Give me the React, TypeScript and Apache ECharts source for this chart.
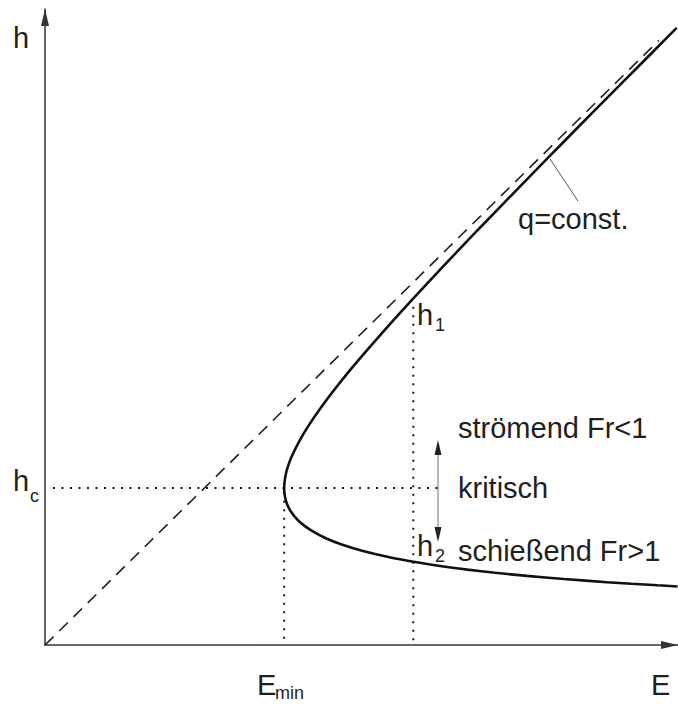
import React, { useEffect, useRef } from "react";
import * as echarts from "echarts";

// Specific energy curve E(h) for constant discharge q (h_c = 1, E_min = 1.5 h_c)
const curveH = [
  0.373, 0.38, 0.39, 0.4, 0.42, 0.44, 0.46, 0.48, 0.5, 0.53, 0.56, 0.6, 0.64, 0.68,
  0.72, 0.76, 0.8, 0.85, 0.9, 0.95, 1.0, 1.05, 1.1, 1.15, 1.2, 1.3, 1.4, 1.5, 1.6,
  1.75, 1.9, 2.05, 2.2, 2.4, 2.6, 2.8, 3.0, 3.2, 3.4, 3.6, 3.8, 3.93,
];
const curveE = [
  3.967, 3.843, 3.677, 3.525, 3.254, 3.023, 2.823, 2.65, 2.5, 2.31, 2.154, 1.989,
  1.861, 1.761, 1.685, 1.626, 1.581, 1.542, 1.517, 1.504, 1.5, 1.504, 1.513, 1.528,
  1.547, 1.596, 1.655, 1.722, 1.795, 1.913, 2.039, 2.169, 2.303, 2.487, 2.674, 2.864,
  3.056, 3.249, 3.443, 3.639, 3.835, 3.962,
];

// Asymptote E = h
const asymptoteE = [0, 3.85];
const asymptoteH = [0, 3.85];

// Critical depth and minimum energy
const hCrit = 1.0;
const eMin = 1.5;
// Energy level intersecting both branches (h1, h2)
const eLevel = 2.31;
const hcLineE = [0.05, 2.49];
const eMinLineH = [0.04, hCrit];
const eLevelLineH = [0.03, 2.17];

const zip = (xs: number[], ys: number[]) => xs.map((x, i) => [x, ys[i]]);

const FONT = '"Liberation Sans", Arial, sans-serif';
const INK = "#231f20";

const label = (text: string, x: number, y: number, size = 29) => ({
  type: "text",
  x,
  y,
  silent: true,
  style: {
    text,
    fontSize: size,
    fontFamily: FONT,
    fill: INK,
    textAlign: "left",
    textVerticalAlign: "middle",
  },
});

export default function App() {
  const ref = useRef<HTMLDivElement>(null);

  useEffect(() => {
    document.body.style.margin = "0";
    if (!ref.current) return;
    const chart = echarts.init(ref.current, undefined, { renderer: "svg" });

    const dotted = {
      color: "#1a1a1a",
      width: 2,
      type: [2, 6.5],
      cap: "butt",
    };

    chart.setOption({
      animation: false,
      backgroundColor: "#ffffff",
      grid: { left: 45, right: 0, top: 9, bottom: 59 },
      xAxis: {
        type: "value",
        min: 0,
        max: 3.97,
        axisLine: {
          show: true,
          lineStyle: { color: "#333", width: 1.5 },
          symbol: ["none", "triangle"],
          symbolSize: [8, 17],
          symbolOffset: [0, -8.5],
        },
        axisTick: { show: false },
        axisLabel: { show: false },
        splitLine: { show: false },
      },
      yAxis: {
        type: "value",
        min: 0,
        max: 4.05,
        axisLine: {
          show: true,
          lineStyle: { color: "#333", width: 1.5 },
          symbol: ["none", "triangle"],
          symbolSize: [8, 17],
          symbolOffset: [0, -8.5],
        },
        axisTick: { show: false },
        axisLabel: { show: false },
        splitLine: { show: false },
      },
      series: [
        {
          name: "h_c",
          type: "line",
          data: hcLineE.map((e) => [e, hCrit]),
          showSymbol: false,
          silent: true,
          lineStyle: dotted,
        },
        {
          name: "E_min",
          type: "line",
          data: eMinLineH.map((h) => [eMin, h]),
          showSymbol: false,
          silent: true,
          lineStyle: dotted,
        },
        {
          name: "E level",
          type: "line",
          data: eLevelLineH.map((h) => [eLevel, h]),
          showSymbol: false,
          silent: true,
          lineStyle: dotted,
        },
        {
          name: "E = h",
          type: "line",
          data: zip(asymptoteE, asymptoteH),
          showSymbol: false,
          silent: true,
          lineStyle: { color: "#222", width: 1.6, type: [12, 8] },
        },
        {
          name: "q=const.",
          type: "line",
          data: zip(curveE, curveH),
          showSymbol: false,
          silent: true,
          smooth: 0.3,
          clip: false,
          lineStyle: { color: "#111", width: 2.6 },
        },
      ],
      graphic: [
        label("h", 13, 38),
        label("h", 13, 481),
        label("c", 30, 496, 18),
        label("E", 257, 685),
        label("min", 275, 693, 18),
        label("E", 651, 685),
        label("h", 417, 315),
        label("1", 435, 325, 18),
        label("h", 417, 546),
        label("2", 435, 556, 18),
        label("strömend Fr<1", 458, 428),
        label("kritisch", 458, 488),
        label("schießend Fr>1", 458, 551),
        label("q=const.", 518, 219),
        {
          type: "line",
          silent: true,
          shape: { x1: 550, y1: 159, x2: 578, y2: 201 },
          style: { stroke: "#555", lineWidth: 1 },
        },
        {
          type: "line",
          silent: true,
          shape: { x1: 438, y1: 450, x2: 438, y2: 532 },
          style: { stroke: "#888", lineWidth: 1.2 },
        },
        {
          type: "polygon",
          silent: true,
          shape: { points: [[438, 440], [434.5, 455], [441.5, 455]] },
          style: { fill: "#222" },
        },
        {
          type: "polygon",
          silent: true,
          shape: { points: [[438, 542], [434.5, 527], [441.5, 527]] },
          style: { fill: "#222" },
        },
      ],
    });

    return () => chart.dispose();
  }, []);

  return <div ref={ref} style={{ width: 678, height: 704 }} />;
}
